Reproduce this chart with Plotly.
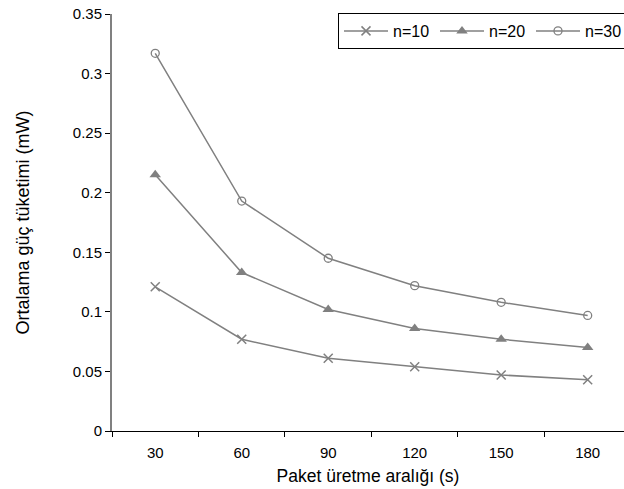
import plotly.graph_objects as go

categories = ["30", "60", "90", "120", "150", "180"]
n10 = [0.121, 0.077, 0.061, 0.054, 0.047, 0.043]
n20 = [0.215, 0.133, 0.102, 0.086, 0.077, 0.070]
n30 = [0.317, 0.193, 0.145, 0.122, 0.108, 0.097]

GRAY = "#808080"
FONT = "Liberation Sans, Arial, sans-serif"

fig = go.Figure()
series = [
    ("n=10", n10, dict(symbol="x-thin", size=9, color=GRAY, line=dict(color=GRAY, width=1.5))),
    ("n=20", n20, dict(symbol="triangle-up", size=10, color=GRAY)),
    ("n=30", n30, dict(symbol="circle-open", size=8, color=GRAY, line=dict(color=GRAY, width=1.3))),
]
for name, vals, mk in series:
    fig.add_trace(go.Scatter(
        x=categories, y=vals, name=name, mode="lines+markers",
        line=dict(color=GRAY, width=1.5), marker=mk,
    ))

fig.update_layout(
    width=624, height=489,
    margin=dict(l=112, r=0, t=14, b=58, autoexpand=False),
    paper_bgcolor="white", plot_bgcolor="white",
    font=dict(family=FONT, color="black", size=15),
    showlegend=True,
    legend=dict(
        orientation="h", xref="container", yref="container",
        x=338 / 624, xanchor="left", y=1 - 13 / 489, yanchor="top",
        bordercolor="black", borderwidth=1, bgcolor="white",
        font=dict(size=16, family=FONT), entrywidth=37, entrywidthmode="pixels",
        itemwidth=44,
    ),
    xaxis=dict(
        type="category", range=[-0.5, 5.42], tickson="boundaries",
        ticks="outside", ticklen=5, tickcolor="black", tickwidth=1,
        showline=True, linecolor="black", linewidth=1,
        showgrid=False, zeroline=False, automargin=False,
        tickfont=dict(size=15), ticklabelstandoff=8,
        title=dict(text="Paket üretme aralığı (s)", font=dict(size=17.5), standoff=9),
    ),
    yaxis=dict(
        range=[0, 0.35], tickvals=[0, 0.05, 0.1, 0.15, 0.2, 0.25, 0.3, 0.35],
        ticktext=["0", "0.05", "0.1", "0.15", "0.2", "0.25", "0.3", "0.35"],
        ticks="outside", ticklen=5, tickcolor="black", tickwidth=1,
        showline=True, linecolor=GRAY, linewidth=2,
        showgrid=False, zeroline=False, automargin=False,
        tickfont=dict(size=15),
        title=dict(text="Ortalama güç tüketimi (mW)", font=dict(size=18), standoff=38),
    ),
)

fig.write_html("out.html")
